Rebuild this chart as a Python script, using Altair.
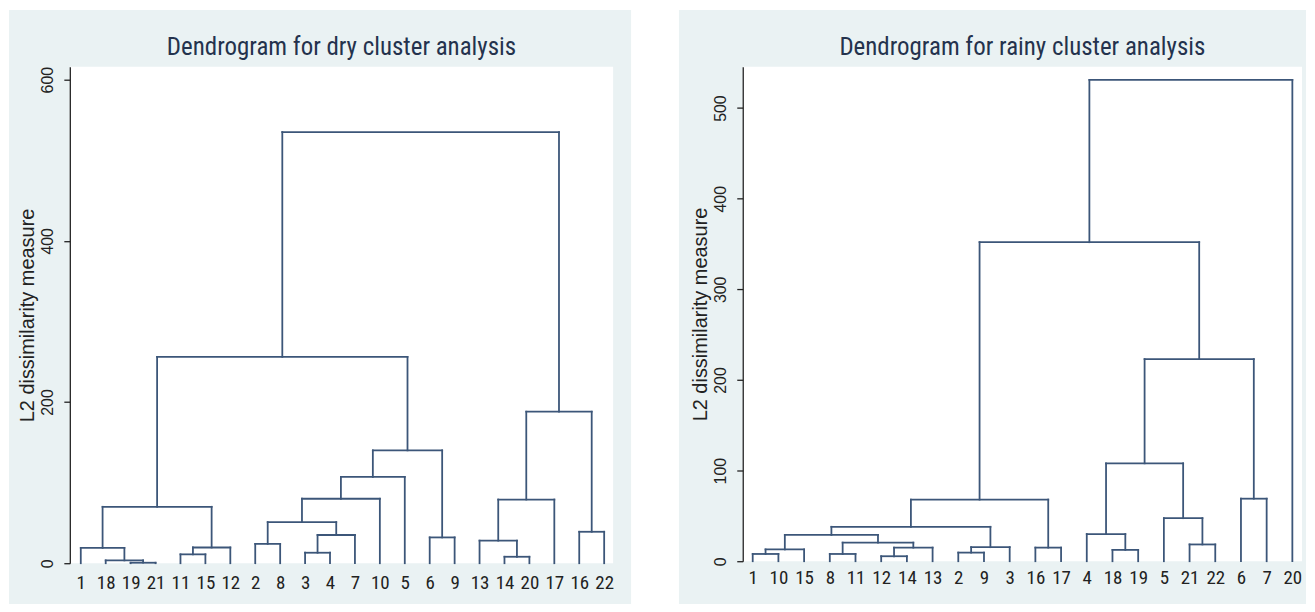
import altair as alt
import pandas as pd

# ---------------- data ----------------
DRY_TITLE = "Dendrogram for dry cluster analysis"
RAINY_TITLE = "Dendrogram for rainy cluster analysis"
Y_TITLE = "L2 dissimilarity measure"

dry_leaves = ["1", "18", "19", "21", "11", "15", "12", "2", "8", "3", "4",
              "7", "10", "5", "6", "9", "13", "14", "20", "17", "16", "22"]
# merges: child a, child b ("#k" = k-th merge), height
dry_a = ["19", "18", "1", "11", "#3", "#2", "2", "3", "#7", "#6", "#9",
         "#10", "6", "#11", "#5", "14", "13", "#16", "16", "#17", "#14"]
dry_b = ["21", "#0", "#1", "15", "12", "#4", "8", "4", "7", "#8", "10",
         "5", "9", "#12", "#13", "20", "#15", "17", "22", "#18", "#19"]
dry_h = [0.6, 3.5, 19, 11, 19.5, 70, 24, 13, 35, 51, 80,
         107, 32, 140, 256, 8, 28, 79, 39, 188, 535]
dry_yticks = [0, 200, 400, 600]

rainy_leaves = ["1", "10", "15", "8", "11", "12", "14", "13", "2", "9", "3",
                "16", "17", "4", "18", "19", "5", "21", "22", "6", "7", "20"]
rainy_a = ["1", "#0", "8", "12", "#3", "#2", "#1", "2", "#7", "#6", "16",
           "#9", "18", "4", "21", "5", "#13", "6", "#16", "#11", "#19"]
rainy_b = ["10", "15", "11", "14", "13", "#4", "#5", "9", "3", "#8", "17",
           "#10", "19", "#12", "22", "#14", "#15", "7", "#17", "#18", "20"]
rainy_h = [8, 13, 8, 5.5, 15, 20.5, 29, 9.5, 15.5, 38, 15,
           68, 12.5, 30, 18.5, 47.5, 108, 69, 223, 352, 531]
rainy_yticks = [0, 100, 200, 300, 400, 500]

# ---------------- style ----------------
BG = "#eaf2f3"
LINE_C = "#3c5679"
TEXT_C = "#222222"
TITLE_C = "#24324d"
NARROW = "Liberation Sans Narrow, Arial Narrow, Roboto Condensed, Roboto, sans-serif"
SANS = "Liberation Sans, Arial, Helvetica, sans-serif"


def segments(leaves, a, b, h):
    pos = {l: (float(i), 0.0) for i, l in enumerate(leaves)}
    rows = []
    for k, (ca, cb, hh) in enumerate(zip(a, b, h)):
        xa, ya = pos[ca]
        xb, yb = pos[cb]
        rows.append(dict(x=xa, x2=xa, y=ya, y2=hh))
        rows.append(dict(x=xb, x2=xb, y=yb, y2=hh))
        rows.append(dict(x=xa, x2=xb, y=hh, y2=hh))
        pos["#%d" % k] = ((xa + xb) / 2.0, hh)
    return pd.DataFrame(rows)


def panel(leaves, a, b, h, title, yticks, xdom, ydom, w, hgt,
          bg_left, bg_right, bg_top, bg_bottom, lab_pad):
    seg = segments(leaves, a, b, h)
    one = alt.InlineData(values=[{"t": title}])
    label_expr = "[" + ",".join("'%s'" % l for l in leaves) + "][round(datum.value)]"

    bg = alt.Chart(one).mark_rect(color=BG, strokeWidth=0).encode(
        x=alt.value(-bg_left), x2=alt.value(w + bg_right),
        y=alt.value(-bg_top), y2=alt.value(hgt + bg_bottom))
    plot_bg = alt.Chart(one).mark_rect(color="#ffffff", strokeWidth=0).encode(
        x=alt.value(0), x2=alt.value(w), y=alt.value(0), y2=alt.value(hgt))
    ttl = alt.Chart(one).mark_text(
        font=NARROW, fontSize=25, color=TITLE_C, align="center", baseline="middle"
    ).encode(x=alt.value(w / 2.0), y=alt.value(-20), text="t:N")

    lines = alt.Chart(seg).mark_rule(
        color=LINE_C, strokeWidth=1.8, strokeCap="square"
    ).encode(
        x=alt.X("x:Q", scale=alt.Scale(domain=xdom, nice=False, zero=False),
                axis=alt.Axis(values=list(range(len(leaves))), labelExpr=label_expr,
                              domain=False, ticks=False, grid=False, title=None,
                              labelFont=NARROW, labelFontSize=19, labelColor=TEXT_C,
                              labelPadding=lab_pad, labelFlush=False, labelOverlap=False,
                              labelBaseline="top", zindex=1)),
        x2="x2:Q",
        y=alt.Y("y:Q", scale=alt.Scale(domain=ydom, nice=False, zero=False),
                axis=alt.Axis(values=yticks, title=Y_TITLE, titleFont=SANS,
                              titleFontSize=20, titleFontWeight="normal",
                              titleColor=TEXT_C, titlePadding=2,
                              labelAngle=270, labelAlign="center", labelBaseline="bottom",
                              labelFont=SANS, labelFontSize=16, labelColor=TEXT_C,
                              labelPadding=8, tickSize=6, tickColor=TEXT_C, tickWidth=1.3,
                              domainColor=TEXT_C, domainWidth=1.3, grid=False,
                              labelFlush=False, labelOverlap=False, zindex=1)),
        y2="y2:Q",
    )
    return alt.layer(bg, plot_bg, lines, ttl).properties(width=w, height=hgt)


dry = panel(dry_leaves, dry_a, dry_b, dry_h, DRY_TITLE, dry_yticks,
            [-0.44, 21.36], [0, 616], 545, 498, 61, 18, 57, 41, 10)
rainy = panel(rainy_leaves, rainy_a, rainy_b, rainy_h, RAINY_TITLE, rainy_yticks,
              [-0.388, 21.376], [0, 545.6], 561, 496, 64, 4, 57, 43, 7)

chart = alt.hconcat(dry, rainy, spacing=46).properties(padding=0).configure(
    background="#ffffff").configure_view(stroke="transparent")

chart.save("out.html", embed_options={"renderer": "svg", "actions": False})
